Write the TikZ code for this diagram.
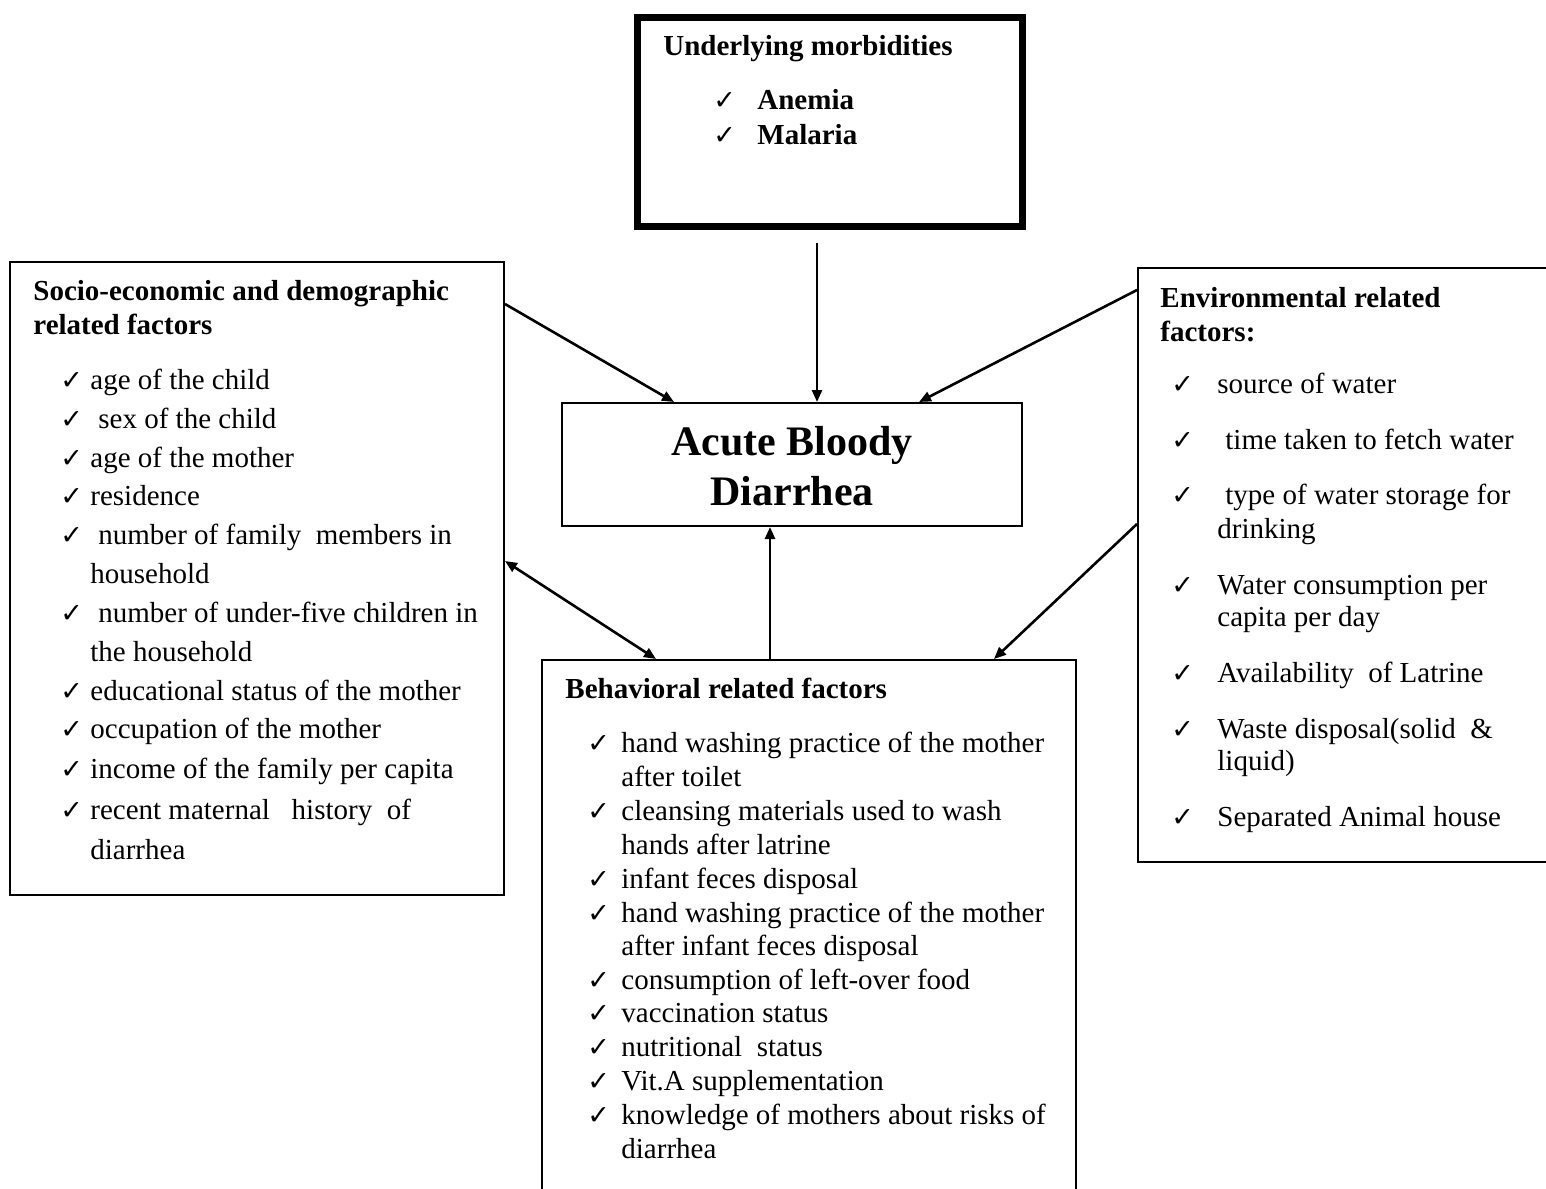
\documentclass[tikz,border=0pt]{standalone}
\usepackage{fontspec}
\setmainfont{Liberation Serif}
\newfontfamily\chkfont{DejaVu Sans}
\usetikzlibrary{fit,arrows.meta}
\tikzset{
  box/.style={draw, line width=1pt, inner sep=0pt},
  thickbox/.style={draw, line width=3.5pt, inner sep=0pt},
  txt/.style={anchor=base west, inner sep=0pt, font=\fontsize{14.5}{17}\selectfont},
  ttl/.style={anchor=base west, inner sep=0pt, font=\fontsize{14.5}{17}\selectfont\bfseries},
  ck/.style={anchor=base west, inner sep=0pt, font=\chkfont\fontsize{13.5}{15}\selectfont},
  arr/.style={line width=1.3pt, -{Triangle[length=6pt,width=5pt]}},
  darr/.style={line width=1.3pt, {Triangle[length=6pt,width=5pt]}-{Triangle[length=6pt,width=5pt]}},
}
\begin{document}
\begin{tikzpicture}[x=0.5pt,y=-0.5pt]
\useasboundingbox (0,0) rectangle (1546,1188);
\clip (0,0) rectangle (1546,1188);
% boxes
\node[thickbox, fit={(637.5,17.5) (1022.5,226.5)}] (top) {};
\node[box, fit={(10,262) (504,895)}] (left) {};
\node[box, fit={(562,403) (1022,526)}] (cen) {};
\node[box, fit={(1138,268) (1570,862)}] (right) {};
\node[box, fit={(542,660) (1076,1210)}] (beh) {};

% top box text
\node[ttl] (t0) at (663,56) {Underlying morbidities};
\node[ck] (tc1) at (713,110) {✓};
\node[ttl] (t1) at (757,110) {Anemia};
\node[ck] (tc2) at (713,144) {✓};
\node[ttl] (t2) at (757,144) {Malaria};

% center text
\node[align=center, inner sep=0pt, font=\fontsize{21}{25}\selectfont\bfseries] (ctext) at (792,466) {Acute Bloody\\Diarrhea};

% left box text
\node[ttl] (l0a) at (33,300) {Socio-economic and demographic};
\node[ttl] (l0b) at (33,334) {related factors};
\foreach \y in {389,428,467,505,544,622,700,738,778,819}{
  \node[ck] at (60,\y) {✓};
}
\node[txt] (l1) at (90,389) {age of the child};
\node[txt] (l2) at (98,428) {sex of the child};
\node[txt] (l3) at (90,467) {age of the mother};
\node[txt] (l4) at (90,505) {residence};
\node[txt] (l5) at (98,544) {number of family\ \ members in};
\node[txt] (l5b) at (90,583) {household};
\node[txt] (l6) at (98,622) {number of under-five children in};
\node[txt] (l6b) at (90,661) {the household};
\node[txt] (l7) at (90,700) {educational status of the mother};
\node[txt] (l8) at (90,738) {occupation of the mother};
\node[txt] (l9) at (90,778) {income of the family per capita};
\node[txt] (l10) at (90,819) {recent maternal\ \ \ history\ \ of};
\node[txt] (l10b) at (90,859) {diarrhea};

% right box text
\node[ttl] (r0a) at (1160,307) {Environmental related};
\node[ttl] (r0b) at (1160,341) {factors:};
\foreach \y in {393,449,504,594,682,738,826}{
  \node[ck] at (1171,\y) {✓};
}
\node[txt] (r1) at (1217,393) {source of water};
\node[txt] (r2) at (1225,449) {time taken to fetch water};
\node[txt] (r3) at (1225,504) {type of water storage for};
\node[txt] (r3b) at (1217,538) {drinking};
\node[txt] (r4) at (1217,594) {Water consumption\ per};
\node[txt] (r4b) at (1217,626) {capita per day};
\node[txt] (r5) at (1217,682) {Availability\ \ of Latrine};
\node[txt] (r6) at (1217,738) {Waste disposal(solid\ \ \&};
\node[txt] (r6b) at (1217,770) {liquid)};
\node[txt] (r7) at (1217,826) {Separated Animal house};

% behavioral box text
\node[ttl] (b0) at (565,698) {Behavioral related factors};
\foreach \y in {752,820,888,922,989,1022,1056,1090,1124}{
  \node[ck] at (587,\y) {✓};
}
\node[txt] (b1) at (621,752) {hand washing practice of the mother};
\node[txt] (b1b) at (621,786) {after toilet};
\node[txt] (b2) at (621,820) {cleansing materials used to wash};
\node[txt] (b2b) at (621,854) {hands after latrine};
\node[txt] (b3) at (621,888) {infant feces disposal};
\node[txt] (b4) at (621,922) {hand washing practice of the mother};
\node[txt] (b4b) at (621,955) {after infant feces disposal};
\node[txt] (b5) at (621,989) {consumption of left-over food};
\node[txt] (b6) at (621,1022) {vaccination status};
\node[txt] (b7) at (621,1056) {nutritional\ \ status};
\node[txt] (b8) at (621,1090) {Vit.A supplementation};
\node[txt] (b9) at (621,1124) {knowledge of mothers about risks of};
\node[txt] (b9b) at (621,1158) {diarrhea};

% connectors
\draw[arr] ([xshift=-6.5pt,yshift=-6.5pt]top.south) -- ([xshift=12.5pt]cen.north);
\draw[arr] ([yshift=-21.5pt]left.north east) -- ([xshift=56.5pt]cen.north west);
\draw[arr] ([yshift=-11.5pt]right.north west) -- ([xshift=-52pt]cen.north east);
\draw[arr] ([xshift=114.5pt]beh.north west) -- ([xshift=104.5pt]cen.south west);
\draw[darr] ([yshift=-150pt]left.north east) -- ([xshift=57.5pt]beh.north west);
\draw[arr] ([yshift=-128.5pt]right.north west) -- ([xshift=226.5pt]beh.north west);
\end{tikzpicture}
\end{document}
